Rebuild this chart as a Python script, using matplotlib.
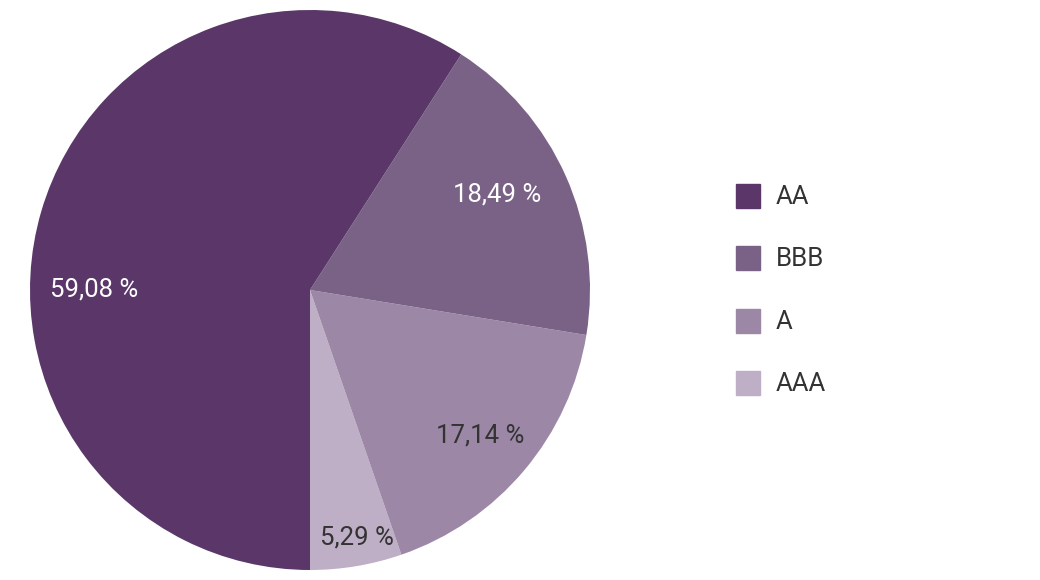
import numpy as np
import matplotlib
matplotlib.use("Agg")
import matplotlib.pyplot as plt
from matplotlib.patches import Rectangle

plt.rcParams['font.family'] = ['Roboto', 'DejaVu Sans']

# data (drawn counter-clockwise from 6 o'clock)
categories = ["AAA", "A", "BBB", "AA"]
shares = [5.29, 17.14, 18.49, 59.08]
label_texts = ["5,29 %", "17,14 %", "18,49 %", "59,08 %"]
legend_order = ["AA", "BBB", "A", "AAA"]

# styles
colors = {"AA": "#5a3768", "BBB": "#7a6287", "A": "#9c88a6", "AAA": "#beaec6"}
text_colors = {"AA": "white", "BBB": "white", "A": "#333333", "AAA": "#333333"}
label_r = {"AA": 0.77, "BBB": 0.75, "A": 0.80, "AAA": 0.90}
label_shift = {"AA": 0, "BBB": 3, "A": -0.5, "AAA": 1.2}  # degrees off mid-angle

W, H = 1040, 580
fig = plt.figure(figsize=(W / 100, H / 100), dpi=100)
ax = fig.add_axes([30 / W, 10 / H, 560 / W, 560 / H])

wedges, _ = ax.pie(shares, colors=[colors[c] for c in categories],
                   startangle=-90, counterclock=True,
                   wedgeprops=dict(linewidth=0))
ax.set_xlim(-1, 1)
ax.set_ylim(-1, 1)
ax.set_aspect("equal")
ax.axis("off")

for w, cat, txt in zip(wedges, categories, label_texts):
    mid = np.deg2rad((w.theta1 + w.theta2) / 2 + label_shift[cat])
    if cat == "AA":
        mid = np.pi  # big slice label sits on the left
    r = label_r[cat]
    ax.text(r * np.cos(mid), r * np.sin(mid), txt, ha="center", va="center",
            fontsize=18.5, color=text_colors[cat])

# legend
for i, cat in enumerate(legend_order):
    yc = 196 + i * 62.3
    fig.patches.append(Rectangle((736 / W, 1 - (yc + 12) / H), 24 / W, 24 / H,
                                 transform=fig.transFigure, color=colors[cat]))
    fig.text(776 / W, 1 - (yc + 1) / H, cat, ha="left", va="center",
             fontsize=18.5, color="#333333")

fig.savefig("out.png", dpi=100)
